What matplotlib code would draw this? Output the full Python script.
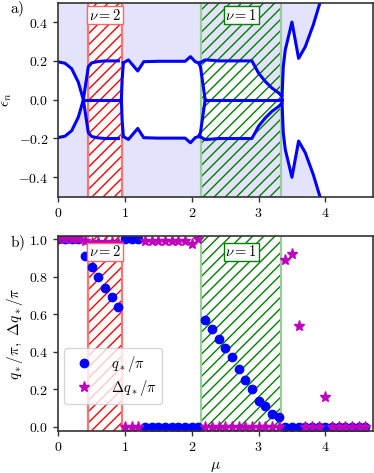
import numpy as np
import matplotlib
matplotlib.use("Agg")
import matplotlib.pyplot as plt
from matplotlib.ticker import FuncFormatter

plt.rcParams['mathtext.fontset'] = 'cm'
plt.rcParams['font.family'] = ['DejaVu Serif']

# ---------------- top panel data (positive branch; spectrum is symmetric) ----------------
mu_l1 = [0.0, 0.1, 0.2, 0.3, 0.375, 0.45, 0.5, 0.6, 0.7, 0.8, 0.9]
e_l1 = [0.195, 0.188, 0.16, 0.09, 0.0, 0.17, 0.19, 0.197, 0.2, 0.2, 0.2]

mu_l2 = [0.975, 1.05, 1.19, 1.28, 1.4, 1.5, 1.6, 1.7, 1.8, 1.9, 1.98, 2.05, 2.12]
e_l2 = [0.19, 0.205, 0.148, 0.196, 0.197, 0.198, 0.198, 0.198, 0.198, 0.198, 0.222, 0.196, 0.187]

mu_l3 = [2.12, 2.2, 2.3, 2.4, 2.5, 2.6, 2.7, 2.8, 2.9, 3.0, 3.1, 3.2, 3.3, 3.345]
e_l3 = [0.19, 0.205, 0.203, 0.2, 0.2, 0.2, 0.2, 0.2, 0.2, 0.137, 0.094, 0.06, 0.035, 0.02]

# transition curves (upper halves, mirrored below)
mu_t1 = [0.945, 0.955, 0.975]
e_t1 = [0.0, 0.1, 0.19]
mu_t2 = [2.2, 2.13, 2.1]
e_t2 = [0.0, 0.17, 0.19]
mu_t3 = [3.35, 3.37, 3.4, 3.5, 3.6, 3.7, 3.82, 3.92, 3.95]
e_t3 = [0.0, 0.17, 0.256, 0.40, 0.213, 0.273, 0.386, 0.5, 0.55]

# zero modes
mu_z1 = [0.375, 0.945]
mu_z2 = [2.2, 3.35]

# topological regions
nu2_range = [0.44, 0.95]
nu1_range = [2.14, 3.34]

# ---------------- bottom panel data ----------------
mu_b = [0.0, 0.1, 0.2, 0.3, 0.4, 0.5, 0.6, 0.7, 0.8, 0.9,
        1.0, 1.1, 1.2, 1.3, 1.4, 1.5, 1.6, 1.7, 1.8, 1.9,
        2.0, 2.1, 2.2, 2.3, 2.4, 2.5, 2.6, 2.7, 2.8, 2.9,
        3.0, 3.1, 3.2, 3.3, 3.4, 3.5, 3.6, 3.7, 3.8, 3.9,
        4.0, 4.1, 4.2, 4.3, 4.4, 4.5, 4.6]
q_star = [1.0, 1.0, 1.0, 1.0, 0.91, 0.85, 0.80, 0.74, 0.69, 0.64,
          1.0, 1.0, 1.0, 0, 0, 0, 0, 0, 0, 0,
          0, 0, 0.57, 0.52, 0.47, 0.42, 0.37, 0.31, 0.25, 0.20,
          0.14, 0.11, 0.07, 0.05, 0, 0, 0, 0, 0, 0,
          0, 0, 0, 0, 0, 0, 0]
dq_star = [1.0, 1.0, 1.0, 1.0, 0.99, 0.98, 0.985, 0.98, 0.985, 0.98,
           0, 0, 0, 0.99, 0.99, 0.99, 0.99, 0.99, 0.99, 0.99,
           0.975, 1.0, 0, 0, 0, 0, 0, 0, 0, 0,
           0, 0, 0, 0, 0.89, 0.92, 0.54, 0, 0, 0,
           0.16, 0, 0, 0, 0, 0, 0]

W, H = 374, 473
fig = plt.figure(figsize=(W / 100, H / 100), dpi=100)
ax1 = fig.add_axes([58.3 / W, 1 - 196.7 / H, 314.4 / W, 194.0 / H])
ax2 = fig.add_axes([58.3 / W, 1 - 430.7 / H, 314.4 / W, 195.0 / H])

lav = (0.89, 0.89, 0.99)
blue = (0, 0, 1)

def bands(ax, ylab):
    # nu = 2 band
    ax.axvspan(*nu2_range, facecolor='white', edgecolor='none', zorder=1)
    ax.axvspan(*nu2_range, facecolor='none', edgecolor='red', hatch='///', lw=0, zorder=1.5)
    for x in nu2_range:
        ax.axvline(x, color=(1.0, 0.45, 0.45), lw=1.6, zorder=1.6)
    # nu = 1 band
    ax.axvspan(*nu1_range, facecolor='none', edgecolor='green', hatch='///', lw=0, zorder=1.5)
    for x in nu1_range:
        ax.axvline(x, color=(0.6, 0.8, 0.6), lw=1.6, zorder=1.6)
    ax.text(np.mean(nu2_range), ylab, r'$\nu=2$', ha='center', va='center', fontsize=10.5,
            bbox=dict(boxstyle='square,pad=0.12', facecolor='white', edgecolor=(1.0, 0.4, 0.4), lw=1.0),
            zorder=5)
    ax.text(np.mean(nu1_range), ylab, r'$\nu=1$', ha='center', va='center', fontsize=10.5,
            bbox=dict(boxstyle='square,pad=0.12', facecolor='white', edgecolor='green', lw=1.0),
            zorder=5)

# ---- top panel ----
edge_mu = np.concatenate([mu_l1, mu_l2, mu_l3[1:], mu_t3, [4.8]])
edge_e = np.concatenate([e_l1, e_l2, e_l3[1:], e_t3, [0.5]])
edge_e = np.minimum(edge_e, 0.5)
ax1.fill_between(edge_mu, edge_e, 0.5, color=lav, lw=0, zorder=0.5)
ax1.fill_between(edge_mu, -0.5, -edge_e, color=lav, lw=0, zorder=0.5)
bands(ax1, 0.436)

lw = 2.2
for mx, ey in [(mu_l1, e_l1), (mu_l2, e_l2), (mu_l3, e_l3), (mu_t1, e_t1), (mu_t2, e_t2), (mu_t3, e_t3)]:
    ey = np.array(ey)
    ax1.plot(mx, ey, color=blue, lw=lw, zorder=3, solid_joinstyle='round')
    ax1.plot(mx, -ey, color=blue, lw=lw, zorder=3, solid_joinstyle='round')
for mz in (mu_z1, mu_z2):
    ax1.plot(mz, [0, 0], color=blue, lw=lw, zorder=3)

ax1.set_xlim(0, 4.71)
ax1.set_ylim(-0.5, 0.5)
ax1.set_yticks([-0.4, -0.2, 0.0, 0.2, 0.4])
ax1.set_xticks([0, 1, 2, 3, 4])
ax1.set_ylabel(r'$\epsilon_n$', fontsize=11, labelpad=3)

# ---- bottom panel ----
bands(ax2, 0.933)
ax2.plot(mu_b, q_star, 'o', color=blue, ms=6, zorder=3, label=r'$q_*/\pi$')
ax2.plot(mu_b, dq_star, '*', color=(0.75, 0, 0.75), ms=8, zorder=3.5, label=r'$\Delta q_*/\pi$')
ax2.set_xlim(0, 4.71)
ax2.set_ylim(-0.021, 1.019)
ax2.set_yticks([0.0, 0.2, 0.4, 0.6, 0.8, 1.0])
ax2.set_xticks([0, 1, 2, 3, 4])
ax2.set_ylabel(r'$q_*/\pi,\ \Delta q_*/\pi$', fontsize=11, labelpad=3)
ax2.set_xlabel(r'$\mu$', fontsize=11, labelpad=4)
leg = ax2.legend(loc='lower left', bbox_to_anchor=(0.018, 0.137), borderaxespad=0,
                 fontsize=10.5, numpoints=1, handletextpad=0.8, labelspacing=0.3)
leg.set_zorder(6)

for ax in (ax1, ax2):
    ax.xaxis.set_major_formatter(FuncFormatter(lambda v, p: r'$%d$' % round(v)))
    ax.yaxis.set_major_formatter(FuncFormatter(lambda v, p: r'$%.1f$' % v))
    ax.tick_params(labelsize=10, length=3.5, width=1.0, color='#333333', direction='out')
    for s in ax.spines.values():
        s.set_color('#333333')
        s.set_linewidth(1.2)
        s.set_zorder(7)

fig.text(17 / W, 1 - 9 / H, r'$\mathrm{a)}$', fontsize=11, ha='center', va='center')
fig.text(17 / W, 1 - 243 / H, r'$\mathrm{b)}$', fontsize=11, ha='center', va='center')

fig.savefig('out.png', dpi=100)
